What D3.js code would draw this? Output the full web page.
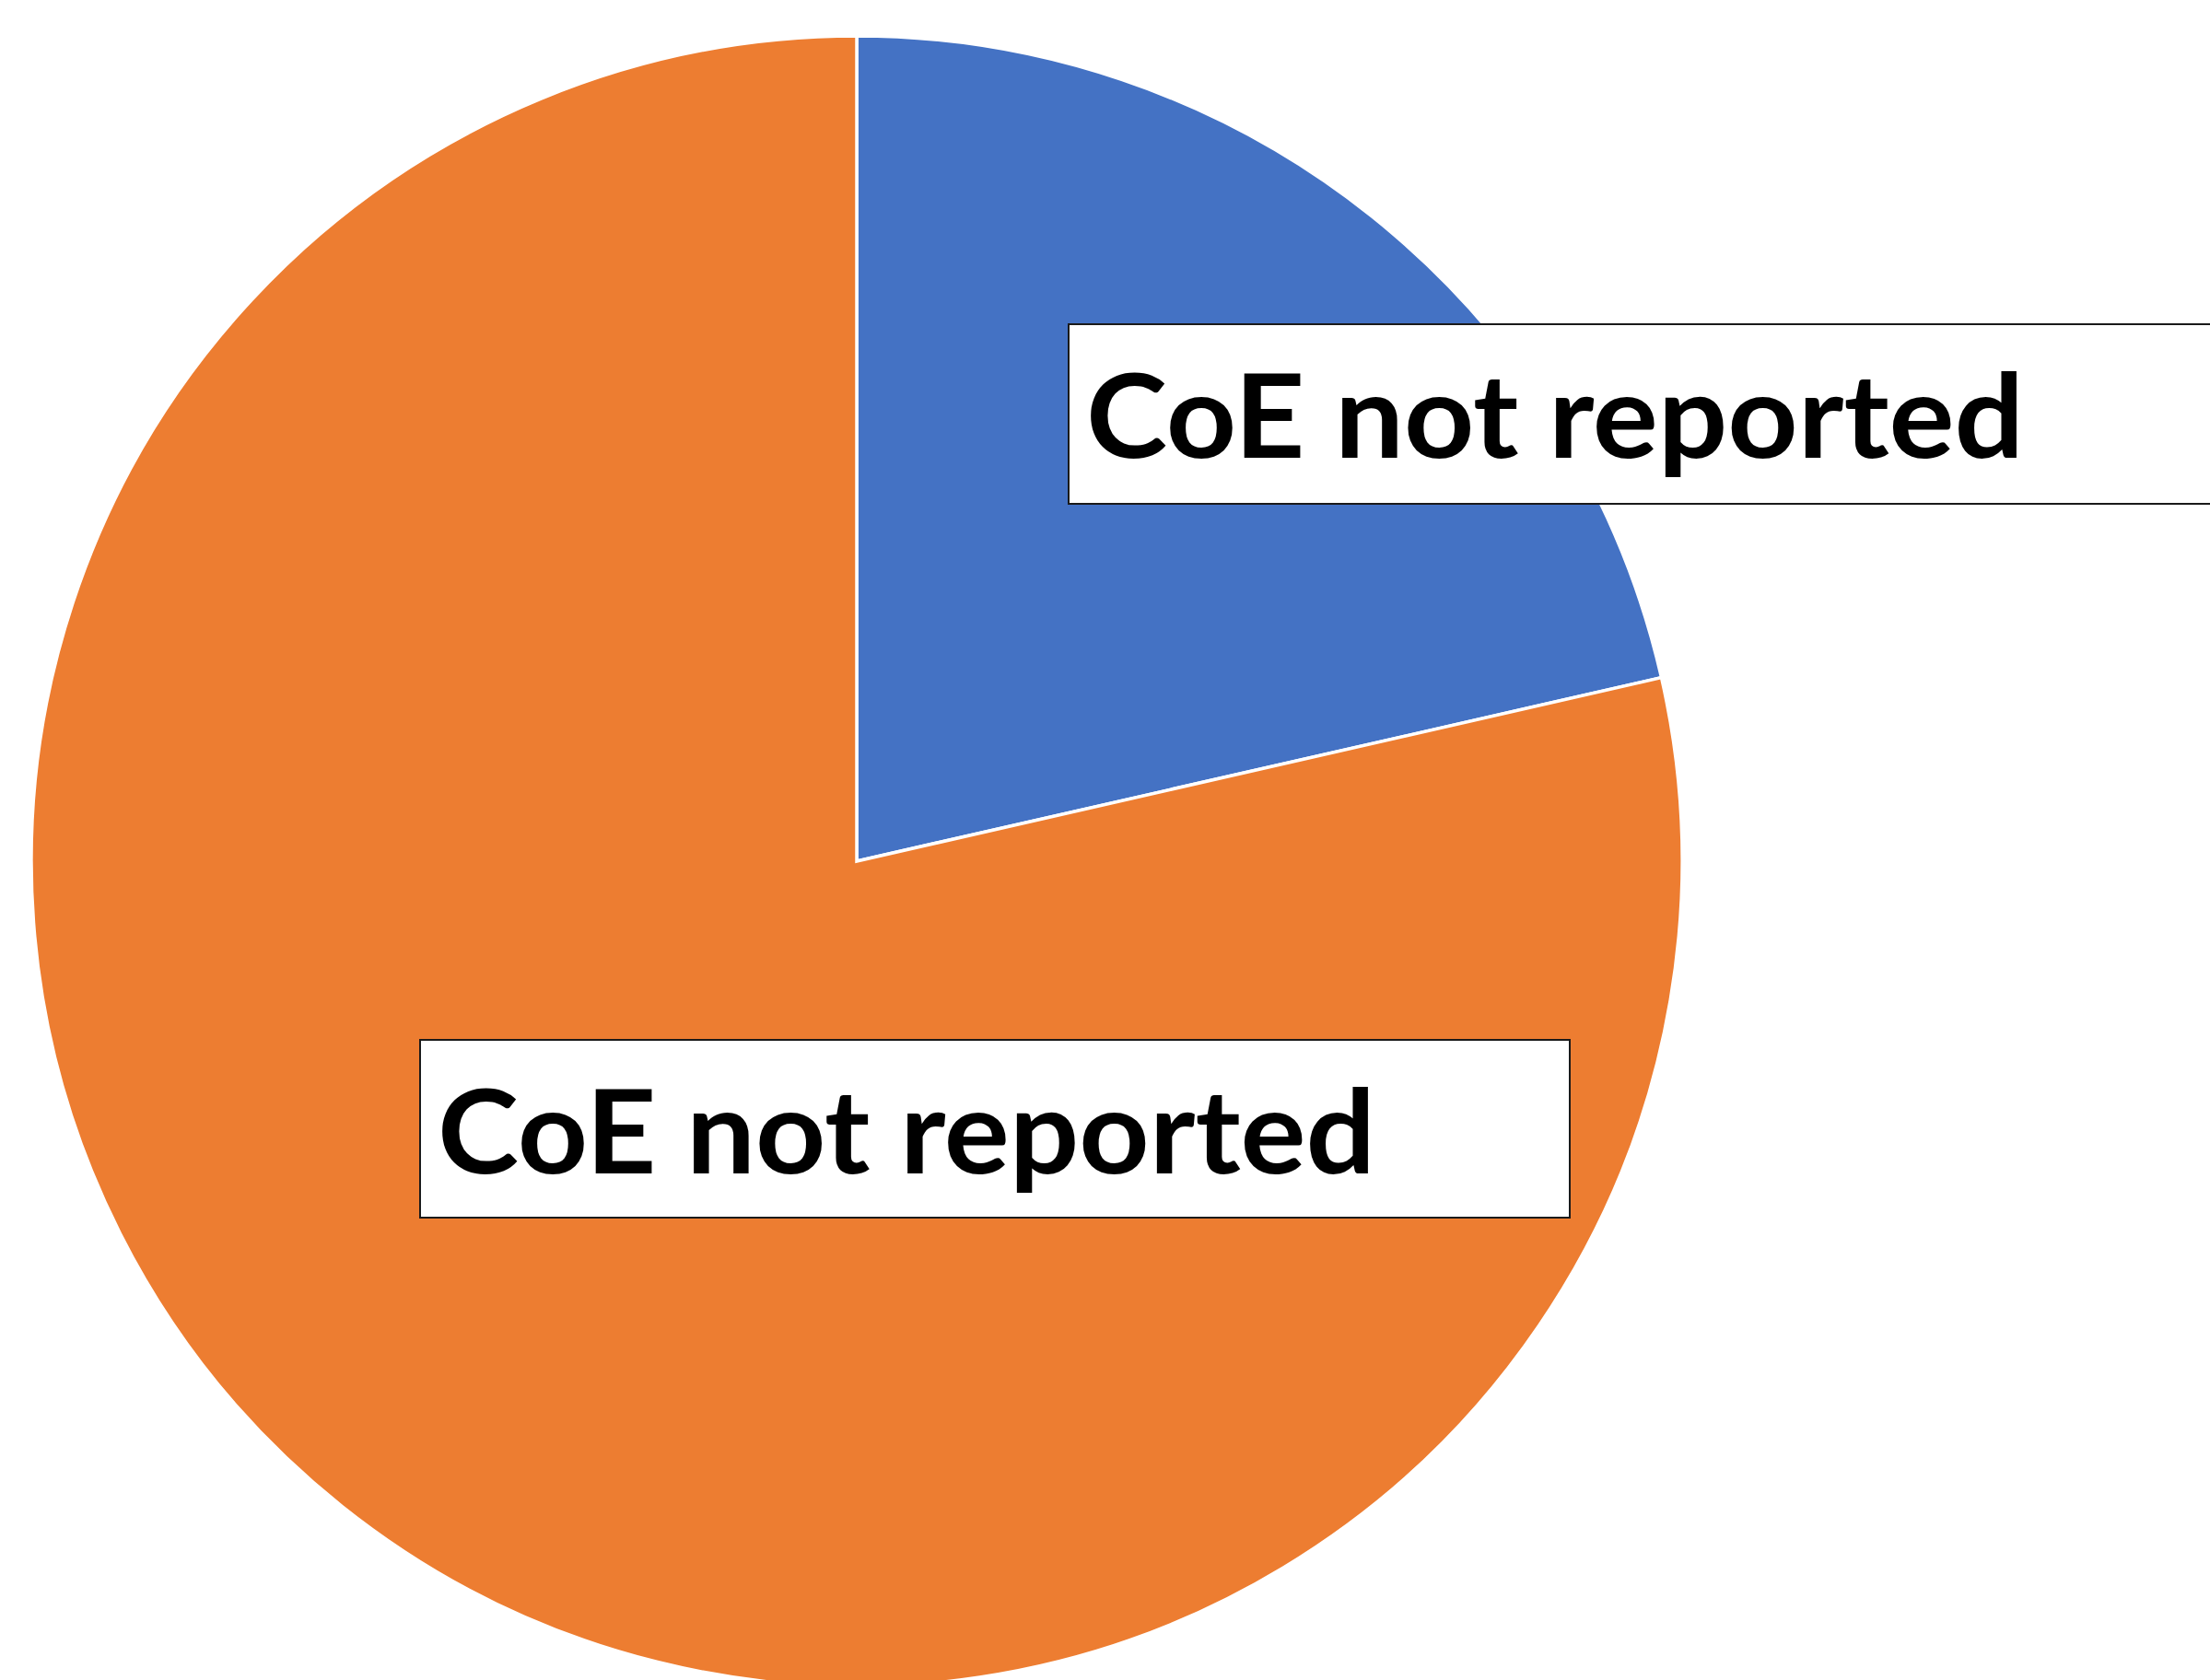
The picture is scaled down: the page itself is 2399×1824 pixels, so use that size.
<!DOCTYPE html>
<html>
<head>
<meta charset="utf-8">
<script src="https://cdn.jsdelivr.net/npm/d3@7"></script>
<style>
  html, body { margin: 0; padding: 0; background: #ffffff; overflow: hidden; }
  svg { display: block; }
</style>
</head>
<body>
<script>
// Data
const categories = ["CoE not reported", "CoE not reported"];
const values = [3, 11];
const colors = ["#4472C4", "#ED7D31"];

const W = 2399, H = 1824;
const cx = 930, cy = 935, R = 896;

const svg = d3.select("body").append("svg")
  .attr("width", W).attr("height", H)
  .attr("viewBox", `0 0 ${W} ${H}`);

svg.append("rect").attr("width", W).attr("height", H).attr("fill", "#ffffff");

const pie = d3.pie().sort(null).value(d => d.v);
const arcs = pie(values.map((v, i) => ({ v, c: categories[i], col: colors[i] })));
const arc = d3.arc().innerRadius(0).outerRadius(R);

const g = svg.append("g").attr("transform", `translate(${cx},${cy})`);
g.selectAll("path").data(arcs).enter().append("path")
  .attr("d", arc)
  .attr("fill", d => d.data.col)
  .attr("stroke", "#ffffff")
  .attr("stroke-width", 3.5)
  .attr("stroke-linejoin", "miter");

// Data label boxes (layout positions)
const labelBoxes = [
  { x: 1160, y: 352, w: 1248, h: 195 },
  { x: 456, y: 1129, w: 1248, h: 193 }
];

const lg = svg.append("g");
arcs.forEach((d, i) => {
  const b = labelBoxes[i];
  lg.append("rect")
    .attr("x", b.x).attr("y", b.y).attr("width", b.w).attr("height", b.h)
    .attr("fill", "#ffffff")
    .attr("stroke", "#1a1a1a")
    .attr("stroke-width", 2);
  lg.append("text")
    .attr("x", b.x + 19)
    .attr("y", b.y + 145)
    .attr("font-family", "Lato, 'Open Sans', sans-serif")
    .attr("font-weight", 700)
    .attr("font-size", 127)
    .attr("fill", "#000000")
    .attr("textLength", 1018)
    .attr("lengthAdjust", "spacingAndGlyphs")
    .text(d.data.c);
});
</script>
</body>
</html>
